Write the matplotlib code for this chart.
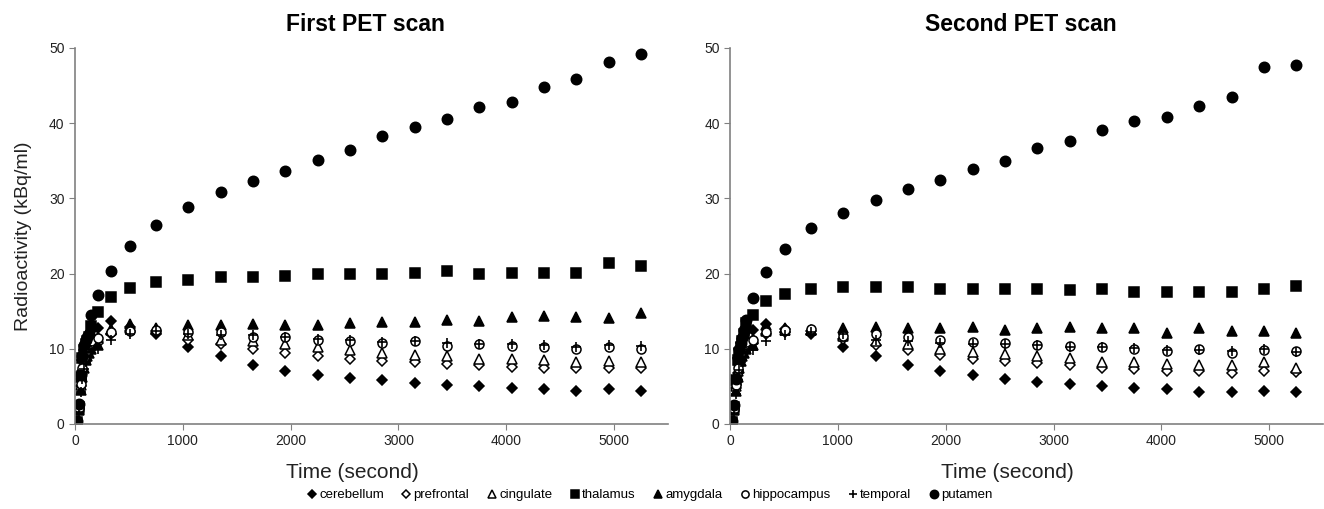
import numpy as np
import matplotlib
matplotlib.use("Agg")
import matplotlib.pyplot as plt

plt.rcParams['font.family'] = ['Liberation Sans', 'DejaVu Sans']

## Données (kBq/ml)
temps = [20, 40, 55, 70, 85, 100, 115, 130, 150, 210, 330, 510, 750,
         1050, 1350, 1650, 1950, 2250, 2550, 2850, 3150, 3450, 3750,
         4050, 4350, 4650, 4950, 5250]

regions = ["cerebellum", "prefrontal", "cingulate", "thalamus",
           "amygdala", "hippocampus", "temporal", "putamen"]

# premier scan
cerebellum1 = [0.4, 2.5, 6.0, 8.5, 9.8, 10.8, 11.2, 11.6, 12.3, 12.8, 13.7, 12.9, 12.0,
               10.2, 9.0, 7.9, 7.1, 6.5, 6.1, 5.8, 5.4, 5.2, 5.0, 4.8, 4.6, 4.4, 4.6, 4.35]
prefrontal1 = [0.3, 2.0, 5.0, 7.0, 8.5, 9.2, 9.8, 10.2, 10.5, 10.8, 12.0, 12.3, 12.3,
               11.2, 10.6, 10.0, 9.5, 9.0, 8.7, 8.4, 8.2, 8.0, 7.9, 7.6, 7.5, 7.4, 7.5, 7.4]
cingulate1 = [0.3, 2.0, 5.2, 7.2, 8.6, 9.5, 10.0, 10.5, 11.0, 11.6, 12.6, 12.8, 12.6,
              11.8, 11.2, 11.0, 10.6, 10.3, 9.8, 9.5, 9.2, 9.0, 8.7, 8.7, 8.5, 8.3, 8.4, 8.2]
thalamus1 = [0.3, 2.3, 6.3, 8.8, 9.8, 10.6, 11.0, 11.5, 13.0, 14.9, 16.9, 18.1, 18.9,
             19.1, 19.5, 19.6, 19.7, 19.9, 19.9, 19.9, 20.1, 20.3, 19.9, 20.1, 20.1, 20.1, 21.4, 21.0]
amygdala1 = [0.2, 1.8, 4.5, 6.2, 7.5, 8.5, 9.0, 9.5, 10.0, 10.5, 12.5, 13.3, 12.8,
             13.2, 13.2, 13.3, 13.2, 13.2, 13.4, 13.6, 13.6, 13.8, 13.7, 14.2, 14.4, 14.2, 14.1, 14.7]
hippocampus1 = [0.3, 2.1, 5.3, 7.5, 8.8, 9.6, 10.2, 10.6, 11.0, 11.4, 12.2, 12.4, 12.5,
                12.2, 12.2, 11.6, 11.6, 11.2, 11.0, 10.8, 11.0, 10.4, 10.6, 10.4, 10.2, 10.0, 10.2, 10.0]
temporal1 = [0.2, 1.6, 4.2, 6.0, 7.3, 8.3, 9.0, 9.6, 9.8, 10.0, 11.2, 12.0, 12.4,
             12.0, 11.8, 11.8, 11.5, 11.3, 11.2, 10.9, 11.0, 10.8, 10.7, 10.7, 10.5, 10.3, 10.5, 10.4]
putamen1 = [0.4, 2.6, 6.5, 9.0, 10.5, 11.2, 11.6, 12.0, 14.5, 17.1, 20.4, 23.6, 26.5,
            28.8, 30.9, 32.3, 33.6, 35.1, 36.4, 38.3, 39.5, 40.6, 42.1, 42.8, 44.8, 45.8, 48.1, 49.2]

# second scan
cerebellum2 = [0.4, 2.4, 6.0, 8.8, 10.0, 10.8, 11.3, 11.8, 12.2, 12.5, 13.3, 12.6, 11.9,
               10.3, 9.0, 7.9, 7.1, 6.5, 6.0, 5.6, 5.3, 5.0, 4.8, 4.6, 4.3, 4.2, 4.4, 4.2]
prefrontal2 = [0.3, 2.0, 4.8, 6.8, 8.2, 9.0, 9.6, 10.0, 10.4, 10.8, 12.0, 12.2, 12.3,
               11.3, 10.5, 9.8, 9.2, 8.7, 8.4, 8.1, 7.8, 7.5, 7.3, 7.1, 7.0, 6.8, 7.0, 6.9]
cingulate2 = [0.3, 2.0, 5.0, 7.0, 8.4, 9.2, 9.8, 10.3, 10.8, 11.3, 12.4, 12.5, 12.5,
              11.7, 11.0, 10.7, 10.0, 9.6, 9.3, 9.0, 8.8, 8.3, 8.3, 8.0, 7.8, 7.8, 8.2, 7.5]
thalamus2 = [0.3, 2.2, 5.8, 8.5, 9.5, 10.2, 11.0, 12.0, 13.4, 14.5, 16.4, 17.3, 18.0,
             18.2, 18.2, 18.2, 17.9, 18.0, 17.9, 17.9, 17.8, 17.9, 17.6, 17.5, 17.5, 17.5, 18.0, 18.4]
amygdala2 = [0.2, 1.8, 4.4, 6.2, 7.4, 8.4, 9.0, 9.5, 10.0, 10.5, 13.2, 12.8, 12.5,
             12.7, 12.9, 12.7, 12.8, 12.9, 12.5, 12.8, 12.9, 12.7, 12.8, 12.1, 12.7, 12.3, 12.4, 12.1]
hippocampus2 = [0.3, 2.0, 5.2, 7.4, 8.7, 9.5, 10.0, 10.5, 10.9, 11.2, 12.2, 12.5, 12.6,
                11.7, 12.0, 11.6, 11.2, 10.9, 10.8, 10.5, 10.4, 10.3, 10.0, 9.7, 10.0, 9.5, 9.9, 9.7]
temporal2 = [0.2, 1.5, 4.0, 5.8, 7.2, 8.2, 8.9, 9.4, 9.6, 9.9, 11.0, 11.8, 12.2,
             12.0, 11.2, 11.0, 10.8, 10.7, 10.6, 10.5, 10.3, 10.2, 10.1, 9.9, 9.9, 9.7, 10.0, 9.6]
putamen2 = [0.4, 2.5, 6.0, 8.8, 10.0, 10.8, 11.4, 12.5, 13.8, 16.7, 20.2, 23.3, 26.1,
            28.0, 29.8, 31.2, 32.4, 33.9, 34.9, 36.7, 37.6, 39.1, 40.3, 40.8, 42.3, 43.4, 47.5, 47.7]

scan1 = [cerebellum1, prefrontal1, cingulate1, thalamus1, amygdala1, hippocampus1, temporal1, putamen1]
scan2 = [cerebellum2, prefrontal2, cingulate2, thalamus2, amygdala2, hippocampus2, temporal2, putamen2]

# style des marqueurs (marker, plein ?, taille)
styles = [("D", True, 5.5), ("D", False, 5.5), ("^", False, 6.5), ("s", True, 7),
          ("^", True, 7), ("o", False, 6.5), ("+", True, 7.5), ("o", True, 7.5)]

## Figure
fig = plt.figure(figsize=(13.24, 5.09), dpi=100)
ax1 = fig.add_axes([0.0566, 0.167, 0.448, 0.739])
ax2 = fig.add_axes([0.5514, 0.167, 0.448, 0.739])

for ax, scan, titre in [(ax1, scan1, "First PET scan"), (ax2, scan2, "Second PET scan")]:
    for nom, y, (m, plein, ms) in zip(regions, scan, styles):
        if m == "+":
            ax.plot(temps, y, linestyle="none", marker=m, ms=ms, mew=1.2,
                    color="black", label=nom)
        else:
            ax.plot(temps, y, linestyle="none", marker=m, ms=ms, mew=1.1,
                    mec="black", mfc="black" if plein else "white", label=nom)
    ax.set_xlim(0, 5500)
    ax.set_ylim(0, 50)
    ax.set_xticks([0, 1000, 2000, 3000, 4000, 5000])
    ax.set_yticks([0, 10, 20, 30, 40, 50])
    ax.spines["top"].set_visible(False)
    ax.spines["right"].set_visible(False)
    for s in ["left", "bottom"]:
        ax.spines[s].set_color("#808080")
        ax.spines[s].set_linewidth(1.2)
    ax.tick_params(colors="#808080", labelcolor="#222222", labelsize=10, length=4)
    ax.set_xlabel("Time (second)", fontsize=15, color="#222222")
    ax.xaxis.set_label_coords(0.467, -0.105)
    ax.set_title(titre, fontsize=16.5, fontweight="bold", pad=12, x=0.49)

ax1.set_ylabel("Radioactivity (kBq/ml)", fontsize=14, color="#222222", labelpad=12)

handles, labels = ax1.get_legend_handles_labels()
fig.legend(handles, labels, loc="center", bbox_to_anchor=(0.49, 0.027), ncol=8,
           frameon=False, fontsize=9.5, handletextpad=0.05, columnspacing=1.2,
           handlelength=1.0, markerscale=0.8)

fig.savefig("out.png", dpi=100)
